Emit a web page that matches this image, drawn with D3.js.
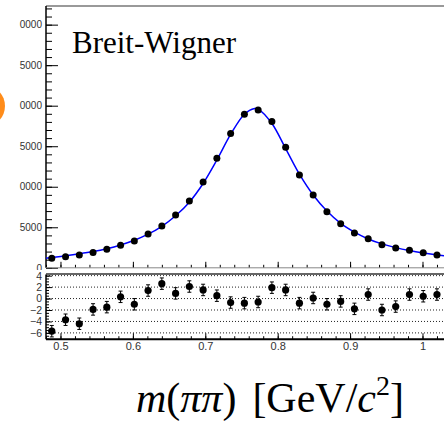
<!DOCTYPE html>
<html>
<head>
<meta charset="utf-8">
<script src="https://cdn.jsdelivr.net/npm/d3@7"></script>
<style>
    body { margin: 0; background: #fff; }
    .axis text { font-family: 'Liberation Sans', Arial, sans-serif; fill: #333; }
    .axis line { stroke: #000; }
</style>
</head>
<body>
<div id="chart"></div>
<script>

// mass bin centres (GeV/c^2)
const masses = [0.488, 0.507, 0.526, 0.545, 0.564, 0.583, 0.602, 0.621, 0.640, 0.659,
    0.678, 0.697, 0.716, 0.735, 0.754, 0.773, 0.792, 0.811, 0.830, 0.849,
    0.868, 0.887, 0.906, 0.925, 0.944, 0.963, 0.982, 1.001, 1.020];

// events per bin
const counts = [1180, 1370, 1580, 1890, 2280, 2790, 3310, 4170, 5160, 6520,
    8250, 10590, 13520, 16580, 18930, 19480, 18040, 14880, 11460, 8990,
    6930, 5440, 4300, 3590, 2850, 2440, 2160, 1860, 1580];

// pulls in the lower pad
const pulls = [-5.7, -3.7, -4.4, -1.9, -1.5, 0.3, -1.0, 1.4, 2.6, 0.9,
    2.1, 1.5, 0.5, -0.7, -0.8, -0.6, 1.9, 1.5, -0.8, 0.1,
    -1.0, -0.5, -1.8, 0.7, -2.0, -1.4, 0.7, 0.4, 0.7];
const pullErrors = [1, 1, 1, 1, 1, 1, 1, 1, 1, 1,
    1, 1, 1, 1, 1, 1, 1, 1, 1, 1,
    1, 1, 1, 1, 1, 1, 1, 1, 1];

// Breit-Wigner fit curve
const fitMass = [0.480, 0.488, 0.507, 0.526, 0.545, 0.564, 0.583, 0.602, 0.621, 0.640,
    0.659, 0.678, 0.697, 0.716, 0.735, 0.754, 0.768, 0.773, 0.792, 0.811,
    0.830, 0.849, 0.868, 0.887, 0.906, 0.925, 0.944, 0.963, 0.982, 1.001, 1.020, 1.030];
const fitValues = [1170, 1270, 1480, 1720, 2000, 2360, 2820, 3400, 4150, 5120,
    6420, 8100, 10400, 13300, 16450, 18950, 19650, 19580, 17800, 14700,
    11550, 8980, 7000, 5480, 4400, 3560, 2950, 2490, 2130, 1840, 1600, 1470];

// tick labels as they show (leading digits are cut off on the left)
const yTicks = [0, 5000, 10000, 15000, 20000, 25000, 30000];
const yTickLabels = ['0', '5000', '0000', '5000', '0000', '5000', '0000'];
const pullTicks = [-6, -4, -2, 0, 2, 4];
const xTicks = [0.5, 0.6, 0.7, 0.8, 0.9, 1.0];
const xTickLabels = ['0.5', '0.6', '0.7', '0.8', '0.9', '1'];

const plotTitle = 'Breit-Wigner';


class FitPlot {

    constructor(parentElement) {
        this.parentElement = parentElement;
        this.initVis();
    }

    initVis() {
        let vis = this;

        vis.width = 444;
        vis.height = 425;

        vis.svg = d3.select('#' + vis.parentElement).append('svg')
            .attr('width', vis.width)
            .attr('height', vis.height);

        vis.svg.append('rect')
            .attr('width', vis.width)
            .attr('height', vis.height)
            .attr('fill', '#fff');

        // bits of the frame
        vis.left = 46;
        vis.right = 444;
        vis.top = 6;
        vis.mainBottom = 267.8;
        vis.lowTop = 274.5;
        vis.lowBottom = 339.2;

        vis.xScale = d3.scaleLinear()
            .domain([0.48, 1.0297])
            .range([vis.left, vis.right]);

        vis.yScale = d3.scaleLinear()
            .domain([0, 32300])
            .range([vis.mainBottom, vis.top]);

        vis.pullScale = d3.scaleLinear()
            .domain([-7.1, 4.2])
            .range([vis.lowBottom, vis.lowTop]);

        // orange thing peeking in from the left edge
        vis.svg.append('ellipse')
            .attr('cx', -14)
            .attr('cy', 106)
            .attr('rx', 19)
            .attr('ry', 20)
            .attr('fill', '#ff8c1a');

        vis.svg.append('clipPath')
            .attr('id', 'mainClip')
            .append('rect')
            .attr('x', vis.left)
            .attr('y', vis.top)
            .attr('width', vis.right - vis.left)
            .attr('height', vis.mainBottom - vis.top);

        vis.drawMain();
        vis.drawPulls();

        // x axis title
        let title = vis.svg.append('text')
            .attr('x', 404)
            .attr('y', 412)
            .attr('text-anchor', 'end')
            .style('font-family', "'Liberation Serif', 'Times New Roman', serif")
            .style('font-size', '42px')
            .style('fill', '#000');
        title.append('tspan').style('font-style', 'italic').text('m');
        title.append('tspan').text('(');
        title.append('tspan').style('font-style', 'italic').text('ππ');
        title.append('tspan').text(')');
        title.append('tspan').attr('dx', 16).text('[GeV/');
        title.append('tspan').style('font-style', 'italic').text('c');
        title.append('tspan').attr('dy', -17).style('font-size', '28px').text('2');
        title.append('tspan').attr('dy', 17).text(']');
    }

    drawMain() {
        let vis = this;

        // minor y ticks
        vis.svg.append('g')
            .attr('class', 'axis')
            .attr('transform', `translate(${vis.left}, 0)`)
            .call(d3.axisLeft(vis.yScale)
                .tickValues(d3.range(0, 32001, 1000))
                .tickSize(-6).tickSizeOuter(0).tickFormat(''))
            .select('.domain').remove();

        vis.svg.append('g')
            .attr('class', 'axis')
            .attr('transform', `translate(${vis.left}, 0)`)
            .call(d3.axisLeft(vis.yScale)
                .tickValues(yTicks)
                .tickSize(-12).tickSizeOuter(0).tickPadding(4)
                .tickFormat((d, i) => yTickLabels[i]))
            .call(g => g.select('.domain').remove())
            .selectAll('text')
            .style('font-size', '10px');

        // x ticks of the upper pad
        vis.svg.append('g')
            .attr('class', 'axis')
            .attr('transform', `translate(0, ${vis.mainBottom})`)
            .call(d3.axisBottom(vis.xScale)
                .tickValues(d3.range(0.48, 1.03, 0.02))
                .tickSize(-3).tickSizeOuter(0).tickFormat(''))
            .select('.domain').remove();

        vis.svg.append('g')
            .attr('class', 'axis')
            .attr('transform', `translate(0, ${vis.mainBottom})`)
            .call(d3.axisBottom(vis.xScale)
                .tickValues(xTicks)
                .tickSize(-6).tickSizeOuter(0).tickFormat(''))
            .select('.domain').remove();

        // frame lines
        vis.svg.append('line')
            .attr('x1', vis.left).attr('x2', vis.right)
            .attr('y1', vis.top).attr('y2', vis.top)
            .attr('stroke', '#777')
            .attr('stroke-width', 1.5);

        vis.svg.append('line')
            .attr('x1', vis.left).attr('x2', vis.left)
            .attr('y1', vis.top).attr('y2', vis.mainBottom)
            .attr('stroke', '#000')
            .attr('stroke-width', 1.5);

        vis.svg.append('line')
            .attr('x1', vis.left).attr('x2', vis.right)
            .attr('y1', vis.mainBottom).attr('y2', vis.mainBottom)
            .attr('stroke', '#888')
            .attr('stroke-width', 1);

        // title
        vis.svg.append('text')
            .attr('x', 72)
            .attr('y', 53)
            .text(plotTitle)
            .style('font-family', "'Liberation Serif', 'Times New Roman', serif")
            .style('font-size', '31px')
            .style('fill', '#000');

        let fitData = fitMass.map((m, i) => ({m: m, v: fitValues[i]}));

        vis.svg.append('path')
            .datum(fitData)
            .attr('clip-path', 'url(#mainClip)')
            .attr('fill', 'none')
            .attr('stroke', '#0000ff')
            .attr('stroke-width', 1.5)
            .attr('d', d3.line()
                .x(d => vis.xScale(d.m))
                .y(d => vis.yScale(d.v))
                .curve(d3.curveCatmullRom));

        vis.svg.append('g')
            .selectAll('circle')
            .data(masses)
            .enter()
            .append('circle')
            .attr('cx', d => vis.xScale(d))
            .attr('cy', (d, i) => vis.yScale(counts[i]))
            .attr('r', 3.5)
            .attr('fill', '#000');
    }

    drawPulls() {
        let vis = this;

        // lower pad covers the bottom of the upper one
        vis.svg.append('rect')
            .attr('x', 0)
            .attr('y', 270)
            .attr('width', vis.width)
            .attr('height', vis.height - 270)
            .attr('fill', '#fff');

        vis.svg.append('g')
            .selectAll('line')
            .data(pullTicks)
            .enter()
            .append('line')
            .attr('x1', vis.left).attr('x2', vis.right)
            .attr('y1', d => vis.pullScale(d))
            .attr('y2', d => vis.pullScale(d))
            .attr('stroke', '#222')
            .attr('stroke-width', 1)
            .attr('stroke-dasharray', '1,2');

        vis.svg.append('g')
            .attr('class', 'axis')
            .attr('transform', `translate(${vis.left}, 0)`)
            .call(d3.axisLeft(vis.pullScale)
                .tickValues(d3.range(-7, 4.3, 0.5))
                .tickSize(-3).tickSizeOuter(0).tickFormat(''))
            .select('.domain').remove();

        vis.svg.append('g')
            .attr('class', 'axis')
            .attr('transform', `translate(${vis.left}, 0)`)
            .call(d3.axisLeft(vis.pullScale)
                .tickValues(pullTicks)
                .tickSize(-6).tickSizeOuter(0).tickPadding(4)
                .tickFormat(d3.format('d')))
            .call(g => g.select('.domain').remove())
            .selectAll('text')
            .style('font-size', '10.5px');

        vis.svg.append('g')
            .attr('class', 'axis')
            .attr('transform', `translate(0, ${vis.lowBottom})`)
            .call(d3.axisBottom(vis.xScale)
                .tickValues(d3.range(0.48, 1.03, 0.02))
                .tickSize(-3).tickSizeOuter(0).tickFormat(''))
            .select('.domain').remove();

        vis.svg.append('g')
            .attr('class', 'axis')
            .attr('transform', `translate(0, ${vis.lowBottom})`)
            .call(d3.axisBottom(vis.xScale)
                .tickValues(xTicks)
                .tickSize(-6).tickSizeOuter(0).tickPadding(3)
                .tickFormat((d, i) => xTickLabels[i]))
            .call(g => g.select('.domain').remove())
            .selectAll('text')
            .style('font-size', '11px');

        // frame
        vis.svg.append('line')
            .attr('x1', vis.left).attr('x2', vis.right)
            .attr('y1', vis.lowTop - 0.5).attr('y2', vis.lowTop - 0.5)
            .attr('stroke', '#666')
            .attr('stroke-width', 2);

        vis.svg.append('line')
            .attr('x1', vis.left).attr('x2', vis.right)
            .attr('y1', vis.lowBottom).attr('y2', vis.lowBottom)
            .attr('stroke', '#000')
            .attr('stroke-width', 2);

        vis.svg.append('line')
            .attr('x1', vis.left).attr('x2', vis.left)
            .attr('y1', vis.lowTop).attr('y2', vis.lowBottom)
            .attr('stroke', '#000')
            .attr('stroke-width', 1.5);

        // error bars with little caps
        let bars = vis.svg.append('g')
            .selectAll('g')
            .data(masses)
            .enter()
            .append('g');

        bars.append('line')
            .attr('x1', d => vis.xScale(d)).attr('x2', d => vis.xScale(d))
            .attr('y1', (d, i) => vis.pullScale(pulls[i] - pullErrors[i]))
            .attr('y2', (d, i) => vis.pullScale(pulls[i] + pullErrors[i]))
            .attr('stroke', '#000');

        [-1, 1].forEach(s => {
            bars.append('line')
                .attr('x1', d => vis.xScale(d) - 2).attr('x2', d => vis.xScale(d) + 2)
                .attr('y1', (d, i) => vis.pullScale(pulls[i] + s * pullErrors[i]))
                .attr('y2', (d, i) => vis.pullScale(pulls[i] + s * pullErrors[i]))
                .attr('stroke', '#000');
        });

        bars.append('circle')
            .attr('cx', d => vis.xScale(d))
            .attr('cy', (d, i) => vis.pullScale(pulls[i]))
            .attr('r', 3.6)
            .attr('fill', '#000');
    }
}

new FitPlot('chart');

</script>
</body>
</html>
